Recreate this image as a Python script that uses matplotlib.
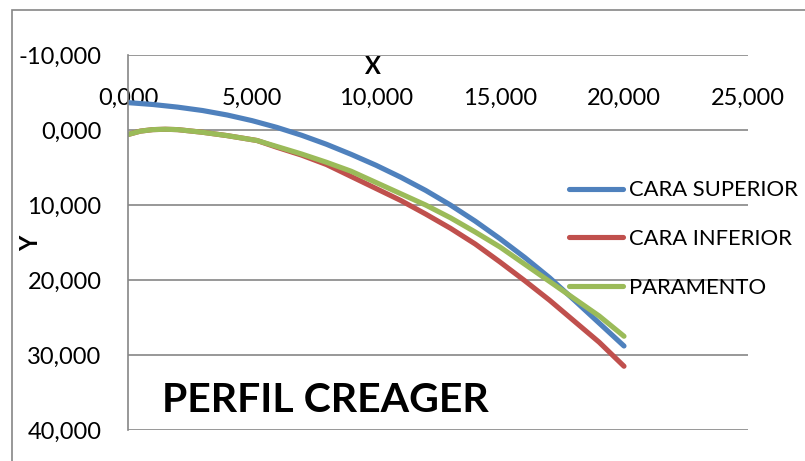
import matplotlib
matplotlib.use("Agg")
import matplotlib.pyplot as plt
from matplotlib.ticker import FuncFormatter
from matplotlib.patches import Rectangle

# Creager profile coordinates (x to the right, y measured downward)
x_sup = [0, 1, 2, 3, 4, 5, 6, 7, 8, 9, 10, 11, 12, 13, 14, 15, 16, 17, 18, 19, 20]
y_sup = [-3.65, -3.4, -3.05, -2.6, -2.0, -1.25, -0.35, 0.7, 1.9, 3.25, 4.7,
         6.3, 8.05, 10.0, 12.15, 14.5, 17.0, 19.7, 22.7, 25.75, 28.8]

x_inf = [0, 0.5, 1, 1.5, 2, 3, 4, 5.2, 6, 7, 8, 9, 10, 11, 12, 13, 14, 15, 16, 17, 18, 19, 20]
y_inf = [0.6, 0.15, -0.05, -0.1, -0.05, 0.3, 0.75, 1.4, 2.3, 3.35, 4.6, 6.2, 7.8,
         9.4, 11.2, 13.1, 15.2, 17.6, 20.1, 22.7, 25.5, 28.3, 31.5]

x_par = [0, 0.5, 1, 1.5, 2, 3, 4, 5.2, 6, 7, 8, 9, 10, 11, 12, 13, 14, 15, 16, 17, 18, 19, 20]
y_par = [0.6, 0.15, -0.05, -0.1, -0.05, 0.3, 0.75, 1.4, 2.2, 3.2, 4.3, 5.5, 7.0,
         8.5, 10.0, 11.7, 13.6, 15.6, 17.9, 20.2, 22.5, 24.8, 27.5]

labels = ["CARA SUPERIOR", "CARA INFERIOR", "PARAMENTO"]
colors = ["#4F81BD", "#C0504D", "#9BBB59"]
x_ticks = [0, 5, 10, 15, 20, 25]
y_ticks = [-10, 0, 10, 20, 30, 40]

plt.rcParams["font.family"] = ["Lato", "DejaVu Sans"]
grey = "#868686"

fig = plt.figure(figsize=(8.05, 4.61), dpi=100)
fig.patches.append(Rectangle((12 / 805, -0.1), 1.2, (461 - 10) / 461 + 0.1,
                             transform=fig.transFigure, fill=False,
                             edgecolor=grey, linewidth=1.2))

ax = fig.add_axes([128 / 805, 31 / 461, 620 / 805, 375 / 461])

for xs, ys, lab, c in zip([x_sup, x_inf, x_par], [y_sup, y_inf, y_par], labels, colors):
    ax.plot(xs, ys, color=c, lw=3.7, label=lab,
            solid_capstyle="round", solid_joinstyle="round")

ax.set_xlim(0, 25)
ax.set_ylim(40, -10)
ax.set_xticks(x_ticks)
ax.set_yticks(y_ticks)

fmt = FuncFormatter(lambda v, pos: f"{v:.3f}".replace(".", ","))
ax.xaxis.set_major_formatter(fmt)
ax.yaxis.set_major_formatter(fmt)

# horizontal axis crosses at y = 0, labels sit above it
ax.xaxis.tick_top()
ax.spines["top"].set_position(("data", 0))
ax.spines["top"].set_visible(False)
ax.spines["right"].set_visible(False)
ax.spines["bottom"].set_visible(False)
ax.spines["left"].set_color(grey)
ax.spines["left"].set_linewidth(1.2)

ax.tick_params(axis="x", length=0, pad=15, labelsize=17)
ax.tick_params(axis="y", length=0, pad=19, labelsize=17)
ax.grid(axis="y", color=grey, lw=1.2)
ax.set_axisbelow(True)

ax.set_xlabel("X", fontsize=17, fontweight="bold")
ax.xaxis.set_label_position("top")
ax.xaxis.set_label_coords((373 - 128) / 620, (430 - 74) / 375)
ax.set_ylabel("Y", fontsize=17, fontweight="bold")
ax.yaxis.set_label_coords((42 - 128) / 620, (430 - 243) / 375)

ax.legend(loc="center left", bbox_to_anchor=(569 / 805, (461 - 239) / 461),
          bbox_transform=fig.transFigure, frameon=False, fontsize=15.8,
          handlelength=2.45, handletextpad=0.28, labelspacing=1.3,
          borderpad=0, borderaxespad=0)

fig.text(162 / 805, (461 - 412) / 461, "PERFIL CREAGER", fontsize=29.5,
         fontweight="bold", ha="left", va="baseline")

fig.savefig("out.png", dpi=100)
